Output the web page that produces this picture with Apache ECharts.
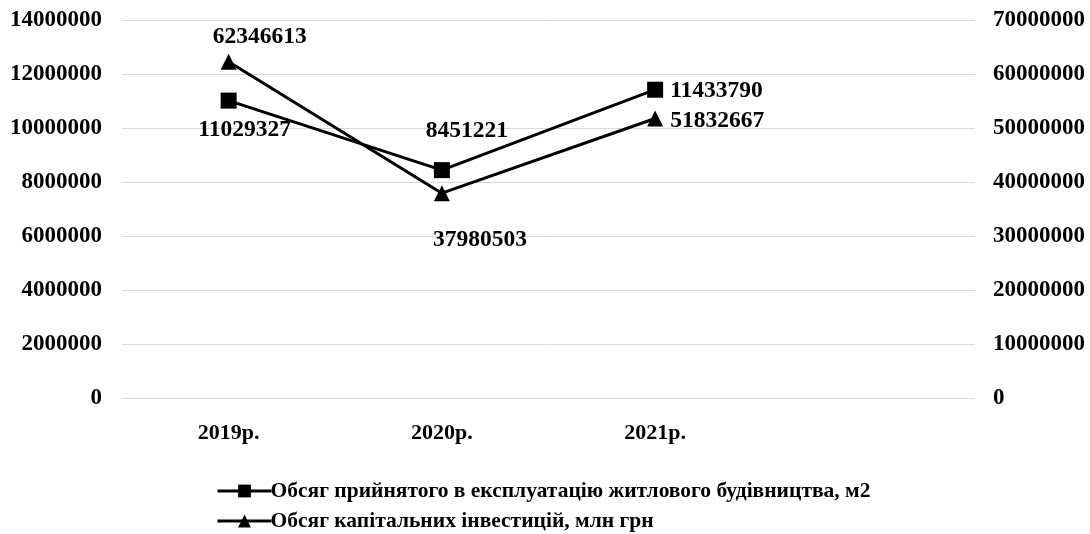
<!DOCTYPE html>
<html><head><meta charset="utf-8">
<script src="https://cdn.jsdelivr.net/npm/echarts@6/dist/echarts.min.js"></script>
<style>html,body{margin:0;padding:0;background:#fff}#c{width:1090px;height:534px}</style>
</head><body><div id="c"></div>
<script>
const categories = ['2019р.', '2020р.', '2021р.', ''];
const housing = [11029327, 8451221, 11433790];
const investment = [62346613, 37980503, 51832667];
const housingName = 'Обсяг прийнятого в експлуатацію житлового будівництва, м2';
const investName = 'Обсяг капітальних інвестицій, млн грн';

const font = 'Liberation Serif';
const housingLabelPos = [{position:'bottom', offset:[16, 4]}, {position:'top', offset:[25, -14]}, {position:'right', offset:[2, 1]}];
const investLabelPos = [{position:'top', offset:[31, 0]}, {position:'bottom', offset:[38, 22]}, {position:'right', offset:[2, 2]}];

function build(vals, pos) {
  return vals.map((v, i) => ({value: v, label: Object.assign({show: true}, pos[i])}));
}
const plain = v => String(v);
const legendText = {fontFamily: font, fontWeight: 'bold', fontSize: 21.5, color: '#000', padding: [0,0,0,-6]};
const legendBase = {left: 211, itemWidth: 54, itemHeight: 16, textStyle: legendText, lineStyle: {width: 3, color: '#000'}};

const chart = echarts.init(document.getElementById('c'));
chart.setOption({
  animation: false,
  grid: {left: 122, right: 115, top: 20.5, bottom: 136, containLabel: false, outerBoundsMode: 'none'},
  xAxis: {
    type: 'category', data: categories, boundaryGap: true,
    axisLine: {show: false}, axisTick: {show: false},
    axisLabel: {fontFamily: font, fontWeight: 'bold', fontSize: 22, color: '#000', margin: 24}
  },
  yAxis: [
    {type: 'value', min: 0, max: 14000000, interval: 2000000,
     axisLine: {show: false}, axisTick: {show: false},
     splitLine: {lineStyle: {color: '#d9d9d9', width: 1}},
     axisLabel: {fontFamily: font, fontWeight: 'bold', fontSize: 23, color: '#000', margin: 20, formatter: plain}},
    {type: 'value', min: 0, max: 70000000, interval: 10000000,
     axisLine: {show: false}, axisTick: {show: false}, splitLine: {show: false},
     axisLabel: {fontFamily: font, fontWeight: 'bold', fontSize: 23, color: '#000', margin: 18, formatter: plain}}
  ],
  legend: [
    Object.assign({top: 475, data: [housingName]}, legendBase),
    Object.assign({top: 505, data: [investName]}, legendBase)
  ],
  series: [
    {name: housingName, type: 'line', yAxisIndex: 0, data: build(housing, housingLabelPos),
     symbol: 'rect', symbolSize: 16, lineStyle: {color: '#000', width: 3}, itemStyle: {color: '#000'},
     label: {fontFamily: font, fontWeight: 'bold', fontSize: 23.5, color: '#000'}},
    {name: investName, type: 'line', yAxisIndex: 1, data: build(investment, investLabelPos),
     symbol: 'triangle', symbolSize: 16, lineStyle: {color: '#000', width: 3}, itemStyle: {color: '#000'},
     label: {fontFamily: font, fontWeight: 'bold', fontSize: 23.5, color: '#000'}}
  ]
});
</script></body></html>
